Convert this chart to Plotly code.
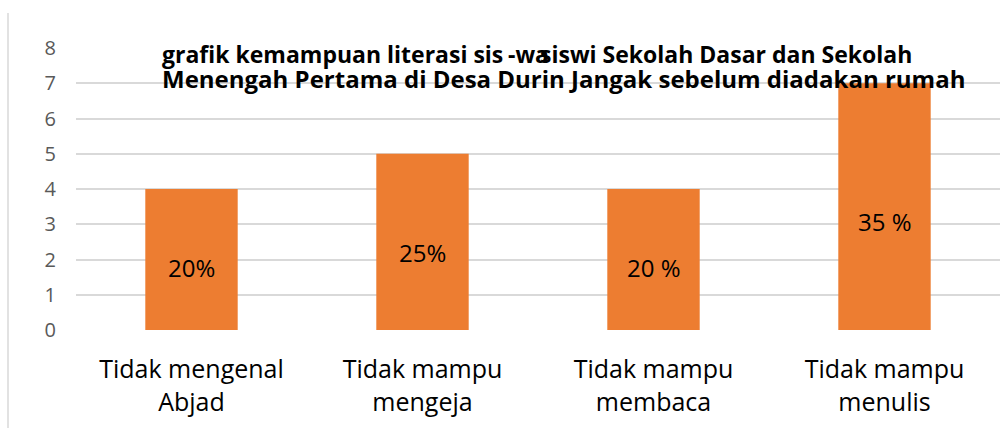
import plotly.graph_objects as go

categories = ["Tidak mengenal<br>Abjad", "Tidak mampu<br>mengeja", "Tidak mampu<br>membaca", "Tidak mampu<br>menulis"]
values = [4, 5, 4, 7]
labels = ["20%", "25%", "20 %", "35 %"]
yticks = [0, 1, 2, 3, 4, 5, 6, 7, 8]
title_line1_left = "grafik kemampuan literasi sis"
title_line1_mid = "-wa"
title_line1_right = "siswi Sekolah Dasar dan Sekolah"
title_line2 = "Menengah Pertama di Desa Durin Jangak sebelum diadakan rumah"

FONT = "Open Sans"
fig = go.Figure()
fig.add_trace(go.Bar(
    x=categories, y=values, marker=dict(color="#ED7D31", line=dict(width=0)),
    width=0.4, hoverinfo="skip",
))

annotations = []
for c, v, t in zip(categories, values, labels):
    annotations.append(dict(x=c, y=v * 0.44, xref="x", yref="y", text=t, showarrow=False,
                            font=dict(family=FONT, size=24, color="#000000"),
                            xanchor="center", yanchor="middle"))

W, H = 1008, 428
L, R, T, B = 76, 8, 48, 98
pw, ph = W - L - R, H - T - B

def px(x):
    return (x - L) / pw

def py(y):
    return (H - B - y) / ph

tfont = dict(family=FONT, size=24, color="#000000")
tfont1 = dict(family=FONT, size=23, color="#000000")
annotations += [
    dict(x=px(160), y=py(54), xref="paper", yref="paper", text="<b>%s</b>" % title_line1_left,
         showarrow=False, xanchor="left", yanchor="middle", font=tfont1),
    dict(x=px(528), y=py(54), xref="paper", yref="paper", text="<b>%s</b>" % title_line1_mid,
         showarrow=False, xanchor="center", yanchor="middle", font=tfont1),
    dict(x=px(914), y=py(54), xref="paper", yref="paper", text="<b>%s</b>" % title_line1_right,
         showarrow=False, xanchor="right", yanchor="middle", font=tfont1),
    dict(x=px(160), y=py(78), xref="paper", yref="paper", text="<b>%s</b>" % title_line2,
         showarrow=False, xanchor="left", yanchor="middle", font=tfont),
]

fig.update_layout(
    width=W, height=H,
    margin=dict(l=L, r=R, t=T, b=B),
    paper_bgcolor="white", plot_bgcolor="white",
    showlegend=False,
    bargap=0.6,
    annotations=annotations,
    shapes=[dict(type="line", xref="paper", yref="paper", x0=px(8), x1=px(8), y0=py(13), y1=py(428),
                 line=dict(color="#D9D9D9", width=1.5))],
    xaxis=dict(showgrid=False, zeroline=False, showline=False, ticks="",
               tickfont=dict(family=FONT, size=25, color="#000000"), ticklabelstandoff=22),
    yaxis=dict(range=[0, 8], tickvals=yticks, showgrid=True, gridcolor="#D9D9D9", gridwidth=1.5,
               zeroline=False, showline=False, ticks="",
               tickfont=dict(family=FONT, size=20, color="#595959"), ticklabelstandoff=19),
)

fig.write_html("out.html")
